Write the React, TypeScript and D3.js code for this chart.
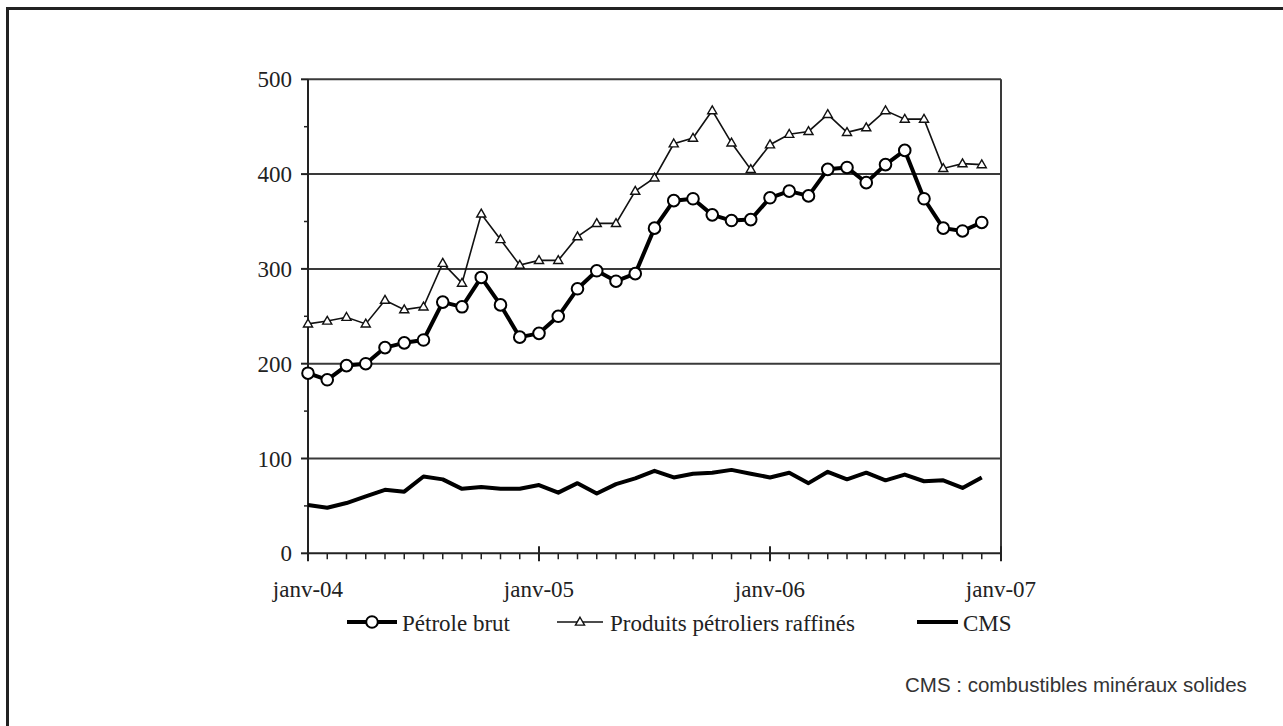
import React from "react";
import * as d3 from "d3";

const months = d3.range(36);
const yearTicks = [0, 12, 24, 36];
const yearLabels = ["janv-04", "janv-05", "janv-06", "janv-07"];
const yTicks = [0, 100, 200, 300, 400, 500];
const yMinor = [50, 150, 250, 350, 450];

const petroleBrut = [190, 183, 198, 200, 217, 222, 225, 265, 260, 291, 262, 228, 232, 250, 279, 298, 287, 295, 343, 372, 374, 357, 351, 352, 375, 382, 377, 405, 407, 391, 410, 425, 374, 343, 340, 349];
const produitsRaffines = [242, 245, 249, 242, 267, 257, 260, 306, 285, 358, 331, 304, 309, 309, 334, 348, 348, 382, 396, 432, 438, 467, 433, 405, 431, 442, 445, 463, 444, 449, 467, 458, 458, 406, 411, 410];
const cms = [51, 48, 53, 60, 67, 65, 81, 78, 68, 70, 68, 68, 72, 64, 74, 63, 73, 79, 87, 80, 84, 85, 88, 84, 80, 85, 74, 86, 78, 85, 77, 83, 76, 77, 69, 80];

const legendLabels = ["Pétrole brut", "Produits pétroliers raffinés", "CMS"];
const footnote = "CMS : combustibles minéraux solides";

const W = 1283;
const H = 726;
const L = 308, R = 1001, T = 79.3, B = 553.3;
const serif = "'Liberation Serif', 'Times New Roman', serif";
const FS = 23;

export default function App() {
  const x = d3.scaleLinear().domain([0, 36]).range([L, R]);
  const y = d3.scaleLinear().domain([0, 500]).range([B, T]);
  const line = d3
    .line<number>()
    .x((_, i) => x(i))
    .y((d) => y(d));
  const tri = d3.symbol(d3.symbolTriangle, 36)() as string;

  return (
    <svg
      width={W}
      height={H}
      style={{ position: "absolute", left: 0, top: 0, background: "#fff" }}
    >
      <rect x={0} y={0} width={W} height={H} fill="#fff" />
      {/* outer frame */}
      <path d={`M7.5,${H} L7.5,8.5 L${W},8.5`} fill="none" stroke="#222" strokeWidth={3} />

      {/* gridlines */}
      {yTicks.filter((t) => t > 0).map((t) => (
        <line key={t} x1={L} x2={R} y1={y(t)} y2={y(t)} stroke="#3a3a3a" strokeWidth={2} />
      ))}
      {/* right border */}
      <line x1={R} x2={R} y1={T} y2={B + 7} stroke="#3a3a3a" strokeWidth={2} />
      {/* y axis */}
      <line x1={L} x2={L} y1={T} y2={B} stroke="#222" strokeWidth={2} />
      {yTicks.map((t) => (
        <g key={t}>
          <line x1={L - 7} x2={L} y1={y(t)} y2={y(t)} stroke="#222" strokeWidth={2} />
          <text
            x={292}
            y={y(t)}
            dy="0.35em"
            textAnchor="end"
            fontFamily={serif}
            fontSize={FS}
            fill="#222"
          >
            {t}
          </text>
        </g>
      ))}
      {yMinor.map((t) => (
        <line key={t} x1={L - 4} x2={L} y1={y(t)} y2={y(t)} stroke="#222" strokeWidth={1.5} />
      ))}
      {/* x axis */}
      <line x1={L} x2={R} y1={B} y2={B} stroke="#222" strokeWidth={2} />
      {d3.range(37).map((m) => (
        <line
          key={m}
          x1={x(m)}
          x2={x(m)}
          y1={m % 12 === 0 ? B - 7 : B}
          y2={m % 12 === 0 ? B + 8 : B + 6}
          stroke="#222"
          strokeWidth={m % 12 === 0 ? 2 : 1.5}
        />
      ))}
      {yearTicks.map((m, i) => (
        <text
          key={m}
          x={x(m)}
          y={597}
          textAnchor="middle"
          fontFamily={serif}
          fontSize={FS}
          fill="#222"
        >
          {yearLabels[i]}
        </text>
      ))}

      {/* CMS */}
      <path d={line(cms) as string} fill="none" stroke="#000" strokeWidth={4} strokeLinejoin="round" />
      {/* Produits raffinés */}
      <path d={line(produitsRaffines) as string} fill="none" stroke="#111" strokeWidth={1.6} />
      {produitsRaffines.map((d, i) => (
        <path
          key={i}
          d={tri}
          transform={`translate(${x(i)},${y(d) + 0.5})`}
          fill="#fff"
          stroke="#111"
          strokeWidth={1.4}
        />
      ))}
      {/* Pétrole brut */}
      <path d={line(petroleBrut) as string} fill="none" stroke="#000" strokeWidth={4} strokeLinejoin="round" />
      {petroleBrut.map((d, i) => (
        <circle key={i} cx={x(i)} cy={y(d)} r={5.8} fill="#fff" stroke="#000" strokeWidth={2} />
      ))}

      {/* legend */}
      <g fontFamily={serif} fontSize={FS} fill="#222">
        <line x1={347} x2={397} y1={622} y2={622} stroke="#000" strokeWidth={4} />
        <circle cx={372} cy={622} r={5.8} fill="#fff" stroke="#000" strokeWidth={2} />
        <text x={402} y={631}>{legendLabels[0]}</text>
        <line x1={557} x2={603} y1={622} y2={622} stroke="#111" strokeWidth={1.6} />
        <path d={tri} transform="translate(580,622.5)" fill="#fff" stroke="#111" strokeWidth={1.4} />
        <text x={610} y={631}>{legendLabels[1]}</text>
        <line x1={917} x2={958} y1={622} y2={622} stroke="#000" strokeWidth={4} />
        <text x={963} y={631}>{legendLabels[2]}</text>
      </g>

      {/* footnote */}
      <text
        x={905}
        y={691.5}
        fontFamily="'Liberation Sans', Arial, sans-serif"
        fontSize={20.5}
        fill="#333"
      >
        {footnote}
      </text>
    </svg>
  );
}
